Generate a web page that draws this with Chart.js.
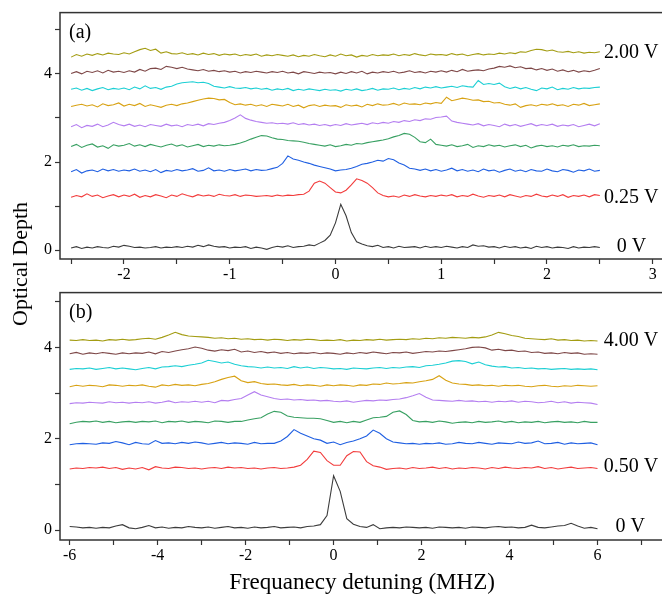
<!doctype html>
<html lang="en">
<head>
<meta charset="utf-8">
<title>Optical depth vs detuning</title>
<script src="https://cdn.jsdelivr.net/npm/chart.js@4.4.1/dist/chart.umd.min.js"></script>
<style>
  html, body { margin: 0; padding: 0; background: #fff; overflow: hidden; }
  body { width: 662px; height: 598px; position: relative; }
  .wrap { position: absolute; left: 0; width: 700px; }
  #wrapA { top: 0; height: 290px; }
  #wrapB { top: 280px; height: 318px; }
  .title { position: absolute; font-family: "Liberation Serif", serif; white-space: nowrap; color: #000; }
  #ytitle { left: 20px; top: 264px; font-size: 22px; transform: translate(-50%, -50%) rotate(-90deg); }
  #xtitle { left: 362px; top: 582px; font-size: 23px; transform: translate(-50%, -50%); }
</style>
</head>
<body>
<div id="wrapA" class="wrap"><canvas id="chartA"></canvas></div>
<div id="wrapB" class="wrap"><canvas id="chartB"></canvas></div>
<div id="ytitle" class="title">Optical Depth</div>
<div id="xtitle" class="title">Frequanecy detuning (MHZ)</div>
<script>
// ---- panel (a): detuning in MHz, step 0.05
const xA = [-2.5,-2.45,-2.4,-2.35,-2.3,-2.25,-2.2,-2.15,-2.1,-2.05,-2,-1.95,-1.9,-1.85,-1.8,-1.75,-1.7,-1.65,-1.6,-1.55,
  -1.5,-1.45,-1.4,-1.35,-1.3,-1.25,-1.2,-1.15,-1.1,-1.05,-1,-0.95,-0.9,-0.85,-0.8,-0.75,-0.7,-0.65,-0.6,-0.55,
  -0.5,-0.45,-0.4,-0.35,-0.3,-0.25,-0.2,-0.15,-0.1,-0.05,0,0.05,0.1,0.15,0.2,0.25,0.3,0.35,0.4,0.45,
  0.5,0.55,0.6,0.65,0.7,0.75,0.8,0.85,0.9,0.95,1,1.05,1.1,1.15,1.2,1.25,1.3,1.35,1.4,1.45,
  1.5,1.55,1.6,1.65,1.7,1.75,1.8,1.85,1.9,1.95,2,2.05,2.1,2.15,2.2,2.25,2.3,2.35,2.4,2.45,2.5];

const a0V = [0.05,0.08,0.04,0.07,0.05,0.08,0.06,0.05,0.09,0.07, 0.11,0.09,0.06,0.07,0.05,0.06,0.08,0.05,0.07,0.06,
  0.08,0.06,0.09,0.07,0.11,0.08,0.12,0.09,0.07,0.08, 0.05,0.07,0.06,0.08,0.04,0.07,0.05,0.02,0.06,0.09,
  0.07,0.10,0.06,0.08,0.09,0.12,0.10,0.16,0.22,0.34, 0.62,1.04,0.78,0.40,0.19,0.14,0.10,0.08,0.11,0.06,
  0.08,0.05,0.09,0.06,0.07,0.08,0.05,0.09,0.06,0.08, 0.06,0.09,0.07,0.05,0.08,0.06,0.12,0.09,0.10,0.07,
  0.08,0.05,0.09,0.06,0.08,0.05,0.07,0.04,0.09,0.06, 0.08,0.05,0.07,0.06,0.04,0.08,0.05,0.07,0.06,0.08,0.06];
const a025V = [1.20,1.24,1.21,1.28,1.22,1.25,1.19,1.23,1.26,1.21, 1.25,1.22,1.27,1.20,1.24,1.21,1.26,1.23,1.19,1.25,
  1.22,1.28,1.24,1.21,1.26,1.23,1.25,1.22,1.27,1.24, 1.23,1.26,1.22,1.25,1.24,1.22,1.23,1.24,1.22,1.25,
  1.23,1.25,1.24,1.26,1.27,1.34,1.52,1.57,1.52,1.42, 1.32,1.30,1.36,1.48,1.62,1.58,1.52,1.42,1.30,1.24,
  1.21,1.23,1.20,1.25,1.22,1.26,1.23,1.21,1.24,1.22, 1.25,1.23,1.26,1.21,1.24,1.22,1.27,1.23,1.20,1.24,
  1.22,1.25,1.21,1.26,1.23,1.20,1.24,1.22,1.27,1.23, 1.21,1.25,1.22,1.26,1.20,1.24,1.22,1.25,1.21,1.26,1.24];
const a050V = [1.78,1.83,1.75,1.80,1.82,1.78,1.84,1.80,1.83,1.79, 1.82,1.80,1.84,1.79,1.82,1.78,1.83,1.76,1.81,1.79,
  1.83,1.80,1.82,1.85,1.79,1.81,1.87,1.80,1.82,1.79, 1.83,1.80,1.82,1.84,1.80,1.83,1.81,1.82,1.85,1.88,
  1.97,2.14,2.07,2.04,2.00,1.97,1.93,1.90,1.87,1.84, 1.80,1.82,1.83,1.86,1.90,1.95,1.97,2.00,2.04,2.02,
  2.08,2.05,1.98,1.93,1.86,1.84,1.81,1.84,1.80,1.83, 1.79,1.82,1.86,1.80,1.83,1.79,1.82,1.78,1.84,1.80,
  1.82,1.77,1.81,1.84,1.79,1.82,1.78,1.83,1.80,1.79, 1.84,1.80,1.78,1.83,1.81,1.77,1.82,1.80,1.84,1.79,1.81];
const a075V = [2.35,2.40,2.33,2.38,2.41,2.34,2.37,2.31,2.39,2.36, 2.38,2.42,2.36,2.39,2.35,2.40,2.37,2.34,2.38,2.41,
  2.36,2.39,2.34,2.37,2.40,2.35,2.38,2.36,2.39,2.37, 2.38,2.40,2.43,2.47,2.52,2.56,2.60,2.59,2.55,2.52,
  2.51,2.49,2.48,2.47,2.45,2.42,2.40,2.38,2.36,2.39, 2.35,2.37,2.40,2.38,2.42,2.41,2.44,2.46,2.48,2.50,
  2.53,2.57,2.60,2.65,2.63,2.56,2.46,2.44,2.52,2.40, 2.38,2.36,2.39,2.35,2.37,2.40,2.33,2.37,2.35,2.39,
  2.36,2.38,2.34,2.37,2.39,2.35,2.38,2.32,2.36,2.38, 2.35,2.37,2.34,2.38,2.36,2.39,2.35,2.37,2.36,2.38,2.37];
const a100V = [2.80,2.85,2.78,2.83,2.81,2.86,2.80,2.84,2.90,2.85, 2.82,2.86,2.81,2.84,2.80,2.85,2.83,2.81,2.86,2.82,
  2.84,2.80,2.85,2.83,2.86,2.82,2.87,2.85,2.88,2.90, 2.94,3.00,3.07,2.99,2.95,2.92,2.90,2.88,2.89,2.87,
  2.88,2.86,2.89,2.85,2.87,2.84,2.86,2.83,2.85,2.82, 2.85,2.83,2.87,2.84,2.86,2.88,2.85,2.89,2.87,2.90,
  2.88,2.92,2.90,2.94,2.92,2.96,2.94,2.98,2.97,3.01, 3.02,3.04,2.93,2.90,2.88,2.86,2.84,2.87,2.82,2.85,
  2.83,2.80,2.86,2.82,2.85,2.81,2.84,2.87,2.82,2.85, 2.83,2.86,2.81,2.84,2.82,2.85,2.80,2.83,2.86,2.82,2.87];
const a125V = [3.26,3.29,3.31,3.27,3.30,3.25,3.32,3.28,3.30,3.34, 3.27,3.31,3.28,3.33,3.26,3.30,3.27,3.24,3.29,3.31,
  3.28,3.32,3.34,3.37,3.40,3.43,3.45,3.44,3.41,3.42, 3.35,3.30,3.32,3.29,3.31,3.27,3.30,3.26,3.31,3.29,
  3.27,3.31,3.26,3.29,3.23,3.28,3.30,3.26,3.29,3.27, 3.28,3.24,3.30,3.27,3.29,3.25,3.31,3.28,3.32,3.29,
  3.30,3.33,3.29,3.34,3.31,3.32,3.30,3.34,3.32,3.35, 3.33,3.47,3.39,3.42,3.45,3.43,3.40,3.41,3.37,3.38,
  3.34,3.35,3.31,3.29,3.32,3.24,3.28,3.30,3.27,3.31, 3.29,3.32,3.28,3.30,3.26,3.31,3.29,3.33,3.28,3.30,3.32];
const a150V = [3.65,3.68,3.63,3.67,3.62,3.66,3.69,3.64,3.67,3.65, 3.68,3.64,3.70,3.66,3.73,3.67,3.69,3.65,3.70,3.72,
  3.77,3.80,3.81,3.82,3.80,3.81,3.78,3.72,3.70,3.68, 3.71,3.68,3.67,3.69,3.66,3.68,3.65,3.67,3.63,3.66,
  3.64,3.67,3.62,3.65,3.63,3.66,3.64,3.62,3.65,3.63, 3.64,3.61,3.65,3.63,3.66,3.62,3.64,3.67,3.63,3.66,
  3.65,3.68,3.64,3.67,3.65,3.69,3.66,3.70,3.68,3.71, 3.68,3.70,3.72,3.69,3.73,3.71,3.70,3.85,3.76,3.78,
  3.76,3.79,3.71,3.67,3.70,3.66,3.69,3.65,3.62,3.68, 3.66,3.70,3.64,3.67,3.65,3.69,3.66,3.68,3.67,3.69,3.70];
const a175V = [4.01,4.05,4.00,4.06,4.03,4.07,4.02,4.08,4.04,4.06, 4.03,4.07,4.04,4.10,4.06,4.12,4.13,4.10,4.17,4.15,
  4.12,4.15,4.11,4.09,4.07,4.10,4.06,4.08,4.05,4.07, 4.04,4.06,4.02,4.05,4.03,4.06,4.04,4.02,4.05,4.03,
  4.06,4.02,4.04,4.00,4.05,4.03,4.01,4.04,4.02,4.03, 4.00,4.04,4.01,4.05,4.02,4.06,4.00,4.04,4.02,4.05,
  4.03,4.06,4.02,4.04,4.07,4.03,4.05,4.02,4.06,4.04, 4.07,4.04,4.08,4.05,4.10,4.06,4.08,4.09,4.07,4.11,
  4.13,4.17,4.15,4.18,4.14,4.16,4.12,4.13,4.09,4.12, 4.08,4.11,4.06,4.09,4.05,4.08,4.04,4.07,4.05,4.08,4.12];
const a200V = [4.38,4.44,4.40,4.45,4.42,4.46,4.43,4.47,4.45,4.44, 4.48,4.45,4.50,4.55,4.58,4.53,4.56,4.47,4.50,4.46,
  4.45,4.48,4.44,4.46,4.43,4.47,4.44,4.46,4.42,4.45, 4.43,4.45,4.41,4.44,4.42,4.45,4.40,4.43,4.41,4.44,
  4.42,4.40,4.43,4.39,4.42,4.40,4.44,4.41,4.39,4.43, 4.40,4.45,4.41,4.43,4.38,4.42,4.40,4.44,4.41,4.43,
  4.42,4.45,4.41,4.44,4.42,4.46,4.43,4.41,4.45,4.43, 4.44,4.42,4.46,4.43,4.45,4.41,4.44,4.46,4.43,4.45,
  4.44,4.47,4.45,4.48,4.46,4.50,4.49,4.53,4.56,4.55, 4.52,4.54,4.50,4.49,4.51,4.48,4.50,4.47,4.49,4.48,4.50];

// ---- panel (b): detuning in MHz, step 0.15
const xB = [-6,-5.85,-5.7,-5.55,-5.4,-5.25,-5.1,-4.95,-4.8,-4.65,-4.5,-4.35,-4.2,-4.05,-3.9,-3.75,-3.6,-3.45,-3.3,-3.15,
  -3,-2.85,-2.7,-2.55,-2.4,-2.25,-2.1,-1.95,-1.8,-1.65,-1.5,-1.35,-1.2,-1.05,-0.9,-0.75,-0.6,-0.45,-0.3,-0.15,
  0,0.15,0.3,0.45,0.6,0.75,0.9,1.05,1.2,1.35,1.5,1.65,1.8,1.95,2.1,2.25,2.4,2.55,2.7,2.85,
  3,3.15,3.3,3.45,3.6,3.75,3.9,4.05,4.2,4.35,4.5,4.65,4.8,4.95,5.1,5.25,5.4,5.55,5.7,5.85,6];

const b0V = [0.08,0.07,0.05,0.06,0.04,0.06,0.05,0.09,0.12,0.05, 0.03,0.06,0.10,0.05,0.07,0.04,0.06,0.05,0.08,0.06,
  0.05,0.07,0.04,0.06,0.08,0.05,0.06,0.04,0.07,0.05, 0.06,0.08,0.05,0.06,0.07,0.05,0.08,0.09,0.12,0.32,
  1.19,0.85,0.25,0.13,0.08,0.06,0.12,0.03,0.05,0.06, 0.05,0.07,0.06,0.05,0.06,0.04,0.07,0.06,0.05,0.06,
  0.04,0.07,0.06,0.05,0.07,0.08,0.06,0.07,0.05,0.06, 0.11,0.06,0.05,0.07,0.09,0.10,0.15,0.09,0.04,0.06,0.03];
const b050V = [1.34,1.36,1.35,1.37,1.36,1.38,1.35,1.37,1.33,1.36, 1.34,1.37,1.32,1.39,1.36,1.35,1.38,1.37,1.35,1.36,
  1.34,1.36,1.37,1.35,1.38,1.36,1.37,1.35,1.36,1.34, 1.36,1.37,1.35,1.36,1.38,1.42,1.55,1.73,1.70,1.52,
  1.42,1.42,1.63,1.72,1.71,1.50,1.41,1.38,1.33,1.35, 1.36,1.34,1.37,1.35,1.36,1.38,1.35,1.37,1.34,1.36,
  1.35,1.37,1.36,1.34,1.37,1.35,1.38,1.36,1.35,1.37, 1.36,1.39,1.35,1.37,1.34,1.36,1.38,1.35,1.36,1.37,1.35];
const b100V = [1.87,1.89,1.90,1.89,1.88,1.91,1.90,1.94,1.91,1.87, 1.92,1.89,1.88,1.96,1.90,1.91,1.89,1.92,1.90,1.93,
  1.91,1.88,1.90,1.92,1.89,1.91,1.90,1.88,1.92,1.89, 1.90,1.90,1.95,2.05,2.20,2.12,2.06,2.00,1.97,1.90,
  1.93,1.87,1.92,1.95,2.00,2.06,2.19,2.12,2.00,1.93, 1.91,1.89,1.90,1.88,1.90,1.89,1.91,1.88,1.89,1.92,
  1.90,1.89,1.92,1.90,1.88,1.91,1.90,1.89,1.93,1.90, 1.91,1.95,1.89,1.90,1.92,1.88,1.91,1.89,1.90,1.91,1.87];
const b150V = [2.33,2.36,2.38,2.37,2.39,2.36,2.38,2.35,2.37,2.38, 2.36,2.38,2.37,2.39,2.35,2.38,2.37,2.39,2.36,2.38,
  2.37,2.35,2.39,2.38,2.36,2.38,2.38,2.41,2.44,2.46, 2.54,2.60,2.58,2.50,2.47,2.46,2.45,2.45,2.44,2.40,
  2.36,2.38,2.35,2.38,2.36,2.41,2.46,2.47,2.49,2.58, 2.61,2.53,2.40,2.37,2.38,2.36,2.39,2.37,2.34,2.36,
  2.37,2.35,2.38,2.36,2.37,2.39,2.36,2.38,2.35,2.37, 2.36,2.38,2.35,2.37,2.38,2.36,2.37,2.35,2.38,2.36,2.36];
const b200V = [2.77,2.79,2.78,2.80,2.79,2.78,2.81,2.79,2.80,2.78, 2.80,2.79,2.81,2.78,2.80,2.83,2.79,2.81,2.80,2.82,
  2.80,2.82,2.79,2.84,2.83,2.86,2.88,2.96,3.03,2.96, 2.92,2.88,2.86,2.87,2.85,2.86,2.84,2.85,2.83,2.84,
  2.82,2.81,2.83,2.80,2.82,2.84,2.83,2.85,2.84,2.86, 2.87,2.90,2.94,2.99,2.91,2.85,2.84,2.83,2.82,2.84,
  2.82,2.83,2.81,2.82,2.80,2.82,2.81,2.83,2.80,2.82, 2.81,2.79,2.80,2.82,2.79,2.81,2.78,2.80,2.79,2.78,2.75];
const b250V = [3.14,3.17,3.15,3.17,3.16,3.14,3.18,3.17,3.15,3.17, 3.16,3.18,3.15,3.13,3.18,3.16,3.19,3.17,3.18,3.16,
  3.19,3.21,3.25,3.30,3.34,3.37,3.27,3.23,3.25,3.21, 3.19,3.20,3.18,3.17,3.19,3.16,3.18,3.17,3.15,3.18,
  3.16,3.18,3.17,3.15,3.18,3.17,3.20,3.19,3.22,3.20, 3.21,3.23,3.22,3.25,3.27,3.30,3.38,3.28,3.22,3.20,
  3.19,3.17,3.18,3.16,3.17,3.15,3.17,3.16,3.17,3.15, 3.14,3.16,3.17,3.15,3.14,3.16,3.15,3.17,3.16,3.15,3.16];
const b300V = [3.52,3.54,3.53,3.55,3.52,3.54,3.56,3.53,3.55,3.53, 3.51,3.54,3.56,3.53,3.57,3.58,3.60,3.58,3.61,3.63,
  3.66,3.72,3.69,3.66,3.68,3.63,3.60,3.58,3.57,3.55, 3.57,3.55,3.56,3.54,3.58,3.55,3.57,3.54,3.56,3.55,
  3.53,3.54,3.52,3.55,3.54,3.53,3.55,3.56,3.54,3.56, 3.55,3.57,3.58,3.56,3.60,3.61,3.63,3.66,3.70,3.71,
  3.69,3.64,3.68,3.62,3.59,3.57,3.58,3.55,3.56,3.54, 3.55,3.53,3.54,3.52,3.53,3.54,3.52,3.53,3.52,3.53,3.51];
const b350V = [3.86,3.89,3.85,3.88,3.86,3.89,3.87,3.85,3.88,3.86, 3.88,3.87,3.90,3.86,3.91,3.89,3.92,3.95,3.97,4.01,
  3.98,3.94,3.92,3.95,3.93,3.96,3.90,3.92,3.89,3.91, 3.88,3.90,3.87,3.89,3.86,3.88,3.87,3.89,3.86,3.88,
  3.87,3.85,3.88,3.86,3.89,3.87,3.90,3.88,3.86,3.89, 3.88,3.90,3.87,3.89,3.91,3.90,3.92,3.91,3.93,3.95,
  3.97,4.00,4.01,3.99,3.94,3.96,3.93,3.94,3.91,3.92, 3.89,3.90,3.87,3.88,3.86,3.89,3.87,3.88,3.85,3.86,3.85];
const b400V = [4.16,4.15,4.17,4.15,4.16,4.14,4.17,4.16,4.18,4.16, 4.17,4.19,4.20,4.18,4.22,4.27,4.33,4.28,4.25,4.24,
  4.23,4.22,4.20,4.21,4.19,4.20,4.18,4.19,4.17,4.18, 4.16,4.18,4.17,4.15,4.17,4.16,4.18,4.17,4.15,4.16,
  4.15,4.17,4.14,4.16,4.15,4.17,4.16,4.18,4.16,4.17, 4.18,4.17,4.19,4.18,4.20,4.19,4.21,4.20,4.22,4.21,
  4.20,4.22,4.21,4.23,4.27,4.33,4.30,4.26,4.24,4.20, 4.19,4.18,4.17,4.19,4.16,4.17,4.15,4.16,4.14,4.15,4.14];

const seriesA = [a0V, a025V, a050V, a075V, a100V, a125V, a150V, a175V, a200V];
const seriesB = [b0V, b050V, b100V, b150V, b200V, b250V, b300V, b350V, b400V];

const TRACE_COLORS = ['#3c3c3c', '#f23c3c', '#1f5fe2', '#38a062', '#b47ef0', '#d8a214', '#1ccfd4', '#7e4848', '#a39c12'];
const SERIF = '"Liberation Serif", "Times New Roman", serif';

// voltage tags at the right-hand end of some traces (data coords)
const tagsA = [
  { text: '2.00 V', x: 2.54, y: 4.49 },
  { text: '0.25 V', x: 2.54, y: 1.19 },
  { text: '0 V',    x: 2.66, y: 0.07 },
];
const tagsB = [
  { text: '4.00 V', x: 6.14, y: 4.15 },
  { text: '0.50 V', x: 6.14, y: 1.38 },
  { text: '0 V',    x: 6.41, y: 0.07 },
];

// box around the plot area (its right side lies past the edge of the figure)
const framePlugin = {
  id: 'frame',
  afterDraw(chart, args, opts) {
    const { ctx, chartArea: a, scales } = chart;
    ctx.save();
    ctx.strokeStyle = '#333';
    ctx.lineWidth = 1.5;
    ctx.strokeRect(a.left, a.top, a.right - a.left, a.bottom - a.top);
    ctx.fillStyle = '#000';
    ctx.textBaseline = 'middle';
    ctx.textAlign = 'left';
    ctx.font = '20px ' + SERIF;
    ctx.fillText(opts.panel, a.left + 9, a.top + 20);
    for (const t of opts.tags) {
      ctx.fillText(t.text, scales.x.getPixelForValue(t.x), scales.y.getPixelForValue(t.y));
    }
    ctx.restore();
  },
};

function makeChart(id, xs, series, cfg) {
  const datasets = series.map((ys, k) => ({
    data: xs.map((x, i) => ({ x, y: ys[i] })),
    borderColor: TRACE_COLORS[k],
    borderWidth: 1.1,
    pointRadius: 0,
    tension: 0,
    fill: false,
  }));
  const tickGrid = { drawOnChartArea: false, drawTicks: true, tickLength: 5, color: '#333', tickWidth: 1.2 };
  return new Chart(document.getElementById(id), {
    type: 'line',
    data: { datasets },
    plugins: [framePlugin],
    options: {
      responsive: true,
      maintainAspectRatio: false,
      animation: false,
      layout: { padding: { top: 9, left: 0, right: 0, bottom: 0 } },
      plugins: {
        legend: { display: false },
        tooltip: { enabled: false },
        frame: { panel: cfg.panel, tags: cfg.tags },
      },
      scales: {
        x: {
          type: 'linear',
          min: cfg.xMin, max: cfg.xMax,
          grid: tickGrid,
          border: { display: false },
          afterFit: (s) => { s.height = cfg.xHeight; },
          ticks: {
            stepSize: cfg.xStep, autoSkip: false, includeBounds: false, maxRotation: 0,
            padding: 1, color: '#000', font: { family: SERIF, size: 16 },
            callback: (v) => cfg.xLabel(v) ? String(Math.round(v)) : '',
          },
        },
        y: {
          min: cfg.yMin, max: cfg.yMax,
          grid: tickGrid,
          border: { display: false },
          afterFit: (s) => { s.width = 60; },
          ticks: {
            stepSize: 1, autoSkip: false, includeBounds: false, padding: 3,
            color: '#000', font: { family: SERIF, size: 16 },
            callback: (v) => (Math.round(v) % 2 === 0 ? String(Math.round(v)) : ''),
          },
        },
      },
    },
  });
}

const isInt = (v) => Math.abs(v - Math.round(v)) < 1e-6;

makeChart('chartA', xA, seriesA, {
  panel: '(a)', tags: tagsA,
  xMin: -2.605, xMax: 3.447, xStep: 0.5, xHeight: 31,
  xLabel: (v) => isInt(v),
  yMin: -0.2, yMax: 5.39,
});

makeChart('chartB', xB, seriesB, {
  panel: '(b)', tags: tagsB,
  xMin: -6.22, xMax: 8.33, xStep: 1, xHeight: 58,
  xLabel: (v) => isInt(v) && Math.round(v) % 2 === 0,
  yMin: -0.216, yMax: 5.2,
});
</script>
</body>
</html>
